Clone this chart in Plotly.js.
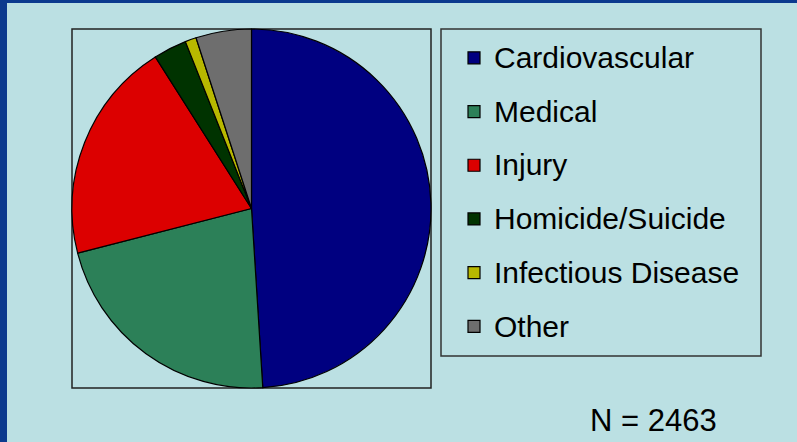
<!DOCTYPE html>
<html>
<head>
<meta charset="utf-8">
<script src="https://cdn.plot.ly/plotly-3.0.1.min.js"></script>
<style>
  html, body { margin: 0; padding: 0; background: #BBE0E3; }
  #chart { width: 797px; height: 442px; }
</style>
</head>
<body>
<div id="chart"></div>
<script>
// Data (percent of deaths)
const categories = ["Cardiovascular", "Medical", "Injury", "Homicide/Suicide", "Infectious Disease", "Other"];
const shares = [49, 22, 20, 3, 1, 5];
const sliceColors = ["#000080", "#2C8058", "#DC0000", "#003300", "#B8B800", "#6E6E6E"];
const totalLabel = "N = 2463";

const W = 797, H = 442;
const px = x => x / W;
const py = y => 1 - y / H;

const trace = {
  type: "pie",
  labels: categories.map(c => '<span style="font-size:30px;baseline-shift:5px">' + c + '</span>'),
  values: shares,
  sort: false,
  direction: "clockwise",
  rotation: 0,
  textinfo: "none",
  hoverinfo: "label+percent",
  marker: { colors: sliceColors, line: { color: "#000000", width: 1.2 } },
  domain: { x: [px(72), px(431)], y: [py(388), py(29)] },
  showlegend: true
};

const layout = {
  width: W, height: H,
  margin: { l: 0, r: 0, t: 0, b: 0 },
  paper_bgcolor: "#BBE0E3",
  plot_bgcolor: "#BBE0E3",
  font: { family: "Liberation Sans, Arial, sans-serif", color: "#000000" },
  showlegend: true,
  legend: {
    x: px(454), y: py(26), xanchor: "left", yanchor: "top",
    bgcolor: "rgba(0,0,0,0)",
    borderwidth: 0,
    font: { size: 39, family: "Liberation Sans, Arial, sans-serif", color: "#000000" },
    traceorder: "normal"
  },
  shapes: [
    { type: "rect", xref: "paper", yref: "paper", x0: px(72), x1: px(431), y0: py(388), y1: py(29),
      line: { color: "#222222", width: 1.5 }, fillcolor: "rgba(0,0,0,0)", layer: "below" },
    { type: "rect", xref: "paper", yref: "paper", x0: px(441), x1: px(761), y0: py(356), y1: py(29),
      line: { color: "#333333", width: 1.5 }, fillcolor: "rgba(0,0,0,0)", layer: "below" },
    { type: "rect", xref: "paper", yref: "paper", x0: 0, x1: px(7), y0: 0, y1: 1,
      line: { width: 0 }, fillcolor: "#0B3A8E" },
    { type: "rect", xref: "paper", yref: "paper", x0: 0, x1: 1, y0: py(3), y1: 1,
      line: { width: 0 }, fillcolor: "#0B3A8E" }
  ],
  annotations: [
    { text: totalLabel, xref: "paper", yref: "paper", x: px(653), y: py(420),
      xanchor: "center", yanchor: "middle", showarrow: false,
      font: { size: 31, family: "Liberation Sans, Arial, sans-serif", color: "#000000" } }
  ]
};

Plotly.newPlot("chart", [trace], layout, { displayModeBar: false, staticPlot: true });
</script>
</body>
</html>
